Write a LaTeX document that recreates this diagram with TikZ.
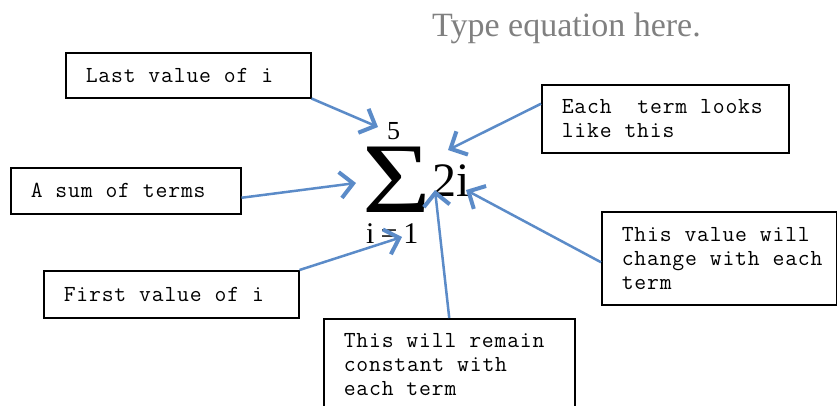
\documentclass[tikz,border=0pt]{standalone}
\usepackage{fontspec}
\usetikzlibrary{arrows.meta}
\newfontfamily\serf{Liberation Serif}
\newfontfamily\monof[LetterSpace=3.6]{Latin Modern Mono}
\newlength\boxspace
\setlength\boxspace{12.9pt}
\definecolor{arrowblue}{HTML}{5B8BC8}
\definecolor{titlegrey}{HTML}{808080}
\tikzset{
  box/.style={draw=black, line width=1.5pt, anchor=north west, inner xsep=20pt, inner ysep=0pt, align=left,
    font=\monof\fontsize{23}{24}\selectfont, execute at begin node={\spaceskip=\boxspace\relax}},
  callout/.style={draw=arrowblue, line width=2.5pt, -{Straight Barb[length=13pt,width=26pt,line width=4pt]}},
  mathtxt/.style={inner sep=0pt, anchor=base west}
}
\begin{document}
\begin{tikzpicture}[x=1pt,y=-1pt]
\useasboundingbox (0,0) rectangle (837,405);
% title
\node[mathtxt, text=titlegrey, font=\serf\fontsize{34}{34}\selectfont] (title) at (432,36) {Type equation here.};
% formula
\node[mathtxt, font=\serf\fontsize{100}{100}\selectfont] (sigma) at (362,212) {\scalebox{1.18}[1]{Σ}};
\node[mathtxt, font=\serf\fontsize{26}{26}\selectfont] (upper) at (387,139) {5};
\node[mathtxt, font=\serf\fontsize{30}{30}\selectfont] (lower) at (366,243) {i\kern6pt=\kern6pt1};
\node[mathtxt, font=\serf\fontsize{48}{48}\selectfont] (term) at (432,196) {2i};
% boxes
\node[box, text width=205pt, minimum height=45pt] (last) at (65,52) {Last~value~of~i};
\node[box, text width=190pt, minimum height=46pt] (sum) at (10,167) {A~sum~of~terms};
\node[box, text width=215pt, minimum height=47pt] (first) at (43,270) {First~value~of~i};
\node[box, text width=207pt, minimum height=68pt] (each) at (541,84) {Each~~term~looks\\like~this};
\node[box, text width=195pt, minimum height=93pt] (value) at (601,211) {This~value~will\\change~with~each\\term};
\node[box, text width=211pt, minimum height=92pt] (remain) at (323,318) {This~will~remain\\constant~with\\each~term};
% tips
\coordinate (tip1) at (378,127);
\coordinate (tip2) at (448,150);
\coordinate (tip3) at (356,183);
\coordinate (tip4) at (402,237);
\coordinate (tip5) at (466,190);
\coordinate (tip6) at (435,190);
% connectors
\draw[callout] (last.south east) -- (tip1);
\draw[callout] ([yshift=15pt]each.west) -- (tip2);
\draw[callout] ([yshift=-7pt]sum.east) -- (tip3);
\draw[callout] (first.north east) -- (tip4);
\draw[callout] ([yshift=-4pt]value.west) -- (tip5);
\draw[callout] (remain.north) -- (tip6);
\end{tikzpicture}
\end{document}
